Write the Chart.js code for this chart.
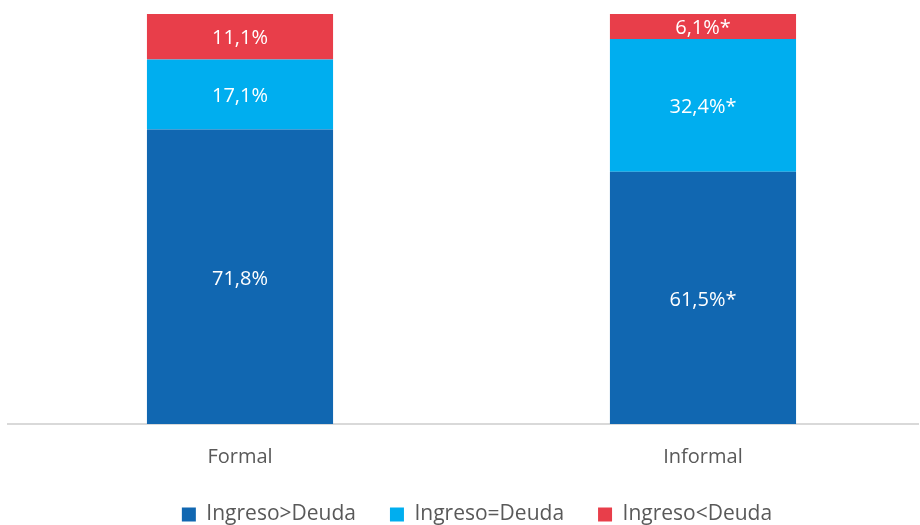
<!DOCTYPE html>
<html>
<head>
<meta charset="utf-8">
<script src="https://cdn.jsdelivr.net/npm/chart.js@4.4.0/dist/chart.umd.min.js"></script>
<style>
  html, body { margin: 0; padding: 0; background: #fff; overflow: hidden; }
  #wrap { width: 920px; height: 525px; }
</style>
</head>
<body>
<div id="wrap"><canvas id="chart" width="920" height="525"></canvas></div>
<script>
// Categorías y series
const categories = ['Formal', 'Informal'];
const seriesNames = ['Ingreso>Deuda', 'Ingreso=Deuda', 'Ingreso<Deuda'];
const mayorDeuda = [71.8, 61.5];
const igualDeuda = [17.1, 32.4];
const menorDeuda = [11.1, 6.1];
// etiquetas de datos (asterisco = diferencia significativa)
const labelsMayor = ['71,8%', '61,5%*'];
const labelsIgual = ['17,1%', '32,4%*'];
const labelsMenor = ['11,1%', '6,1%*'];

const colors = ['#1167b1', '#00aeef', '#e83e4a'];
const fontFam = "'Open Sans', 'DejaVu Sans', sans-serif";

// pasa de arreglo simple a puntos {x, y} (x = índice de la categoría)
function toPoints(arr) {
    return arr.map((v, i) => ({ x: i, y: v }));
}

// plugin para escribir los valores dentro de las barras
const barLabels = {
    id: 'barLabels',
    afterDatasetsDraw(chart) {
        const ctx = chart.ctx;
        ctx.save();
        ctx.fillStyle = '#ffffff';
        ctx.font = '20px ' + fontFam;
        ctx.textAlign = 'center';
        ctx.textBaseline = 'middle';
        chart.data.datasets.forEach((ds, i) => {
            const meta = chart.getDatasetMeta(i);
            meta.data.forEach((bar, j) => {
                const mid = (bar.y + bar.base) / 2;
                ctx.fillText(ds.valueLabels[j], bar.x, mid + 2);
            });
        });
        ctx.restore();
    }
};

// la leyenda del original está algo corrida a la derecha
const legendShift = {
    id: 'legendShift',
    afterLayout(chart) {
        chart.legend.left += 14;
        chart.legend.right += 14;
    }
};

new Chart(document.getElementById('chart'), {
    type: 'bar',
    data: {
        datasets: [
            { label: seriesNames[0], data: toPoints(mayorDeuda), valueLabels: labelsMayor, backgroundColor: colors[0] },
            { label: seriesNames[1], data: toPoints(igualDeuda), valueLabels: labelsIgual, backgroundColor: colors[1] },
            { label: seriesNames[2], data: toPoints(menorDeuda), valueLabels: labelsMenor, backgroundColor: colors[2] }
        ]
    },
    options: {
        responsive: false,
        animation: false,
        categoryPercentage: 0.402,
        barPercentage: 1.0,
        layout: { padding: { left: 8, right: 2, top: 14, bottom: 0 } },
        plugins: {
            legend: {
                position: 'bottom',
                maxHeight: 55,
                labels: {
                    boxWidth: 14,
                    boxHeight: 14,
                    padding: 34,
                    color: '#595959',
                    font: { family: fontFam, size: 21 }
                }
            },
            tooltip: { enabled: false }
        },
        scales: {
            x: {
                type: 'linear',
                stacked: true,
                offset: false,
                min: -0.5011,
                max: 1.4644,
                grid: { display: false, drawTicks: false },
                border: { display: true, color: '#d9d9d9', width: 2 },
                afterBuildTicks(scale) {
                    scale.ticks = categories.map((c, i) => ({ value: i }));
                },
                afterFit(scale) {
                    scale.height = 46;
                },
                ticks: {
                    color: '#595959',
                    padding: 21,
                    maxRotation: 0,
                    autoSkip: false,
                    font: { family: fontFam, size: 20 },
                    callback: (v) => categories[v]
                }
            },
            y: {
                stacked: true,
                min: 0,
                max: 100,
                display: false
            }
        }
    },
    plugins: [barLabels, legendShift]
});
</script>
</body>
</html>
